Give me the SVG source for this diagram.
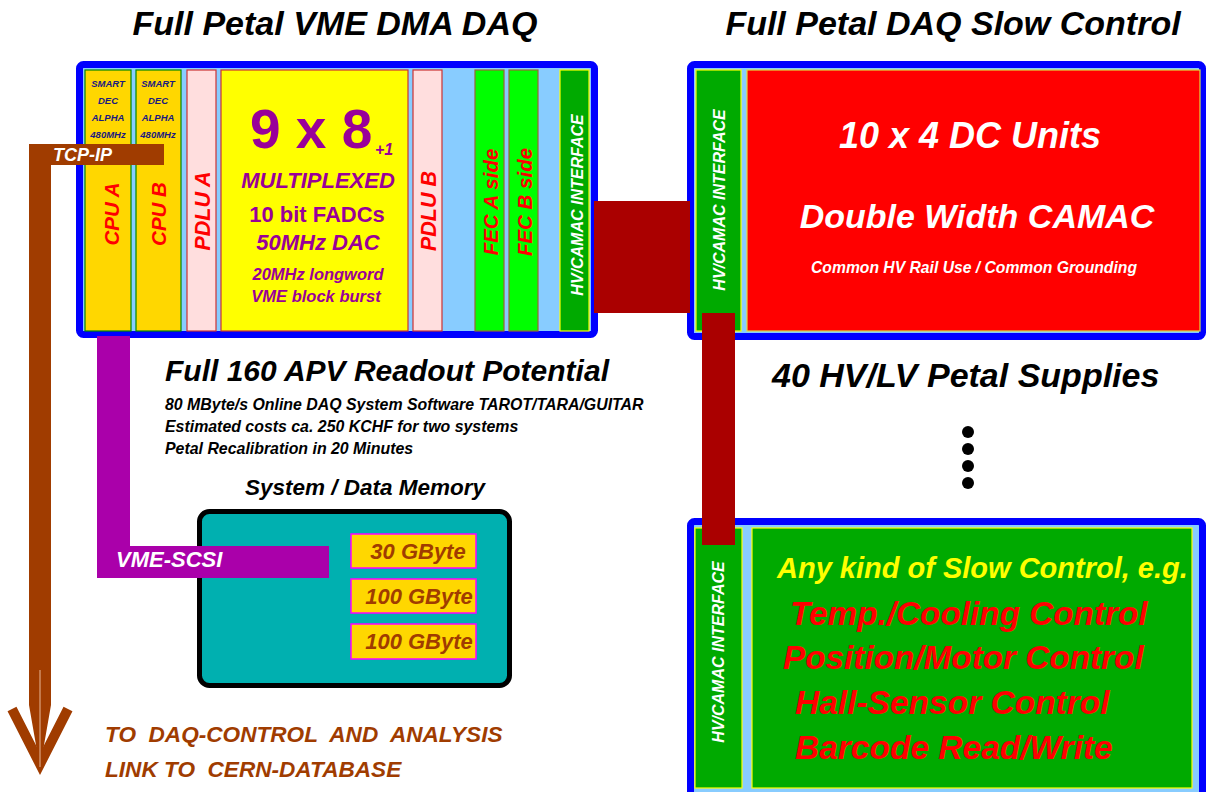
<svg xmlns="http://www.w3.org/2000/svg" width="1206" height="792" viewBox="0 0 1206 792">
<style>
text{font-family:"Liberation Sans",Arial,sans-serif;font-weight:bold;font-style:italic}
.up{font-style:normal}
.crate{fill:#88ccff;stroke:#0000ff;stroke-width:7}
.cpu{fill:#ffd700;stroke:#008800;stroke-width:1.2}
.pdlu{fill:#ffdede;stroke:#cc3333;stroke-width:1.2}
.fadc{fill:#ffff00;stroke:#cc3333;stroke-width:1.2}
.fec{fill:#00ff00;stroke:#996633;stroke-width:1.2}
.hv{fill:#00aa00;stroke:#ffff00;stroke-width:1.2}
.gb{fill:#ffd700;stroke:#ff00ff;stroke-width:1.5}
.small{fill:#1a1a80;font-size:9.5px;text-anchor:middle}
.red{fill:#ff0000}
.white{fill:#ffffff}
.purple{fill:#990099}
.brown{fill:#a03c00}
.link{fill:#aa0000}
</style>
<rect width="1206" height="792" fill="#ffffff"/>

<text x="335" y="35" font-size="34" text-anchor="middle" fill="#000">Full Petal VME DMA DAQ</text>
<text x="953" y="35" font-size="34" text-anchor="middle" fill="#000">Full Petal DAQ Slow Control</text>

<g id="vme-crate">
<rect class="crate" x="79.5" y="64.5" width="515" height="270" rx="4"/>
</g>
<g id="cpu-a">
<rect class="cpu" x="85" y="70" width="46" height="261"/>
<text class="small" x="108" y="87">SMART</text>
<text class="small" x="108" y="104">DEC</text>
<text class="small" x="108" y="121">ALPHA</text>
<text class="small" x="108" y="138">480MHz</text>
<text class="red" font-size="20.5" text-anchor="middle" transform="translate(118.5,214) rotate(-90)">CPU A</text>
</g>
<g id="cpu-b">
<rect class="cpu" x="136" y="70" width="45" height="261"/>
<text class="small" x="158" y="87">SMART</text>
<text class="small" x="158" y="104">DEC</text>
<text class="small" x="158" y="121">ALPHA</text>
<text class="small" x="158" y="138">480MHz</text>
<text class="red" font-size="20.5" text-anchor="middle" transform="translate(165.5,214) rotate(-90)">CPU B</text>
</g>
<g id="pdlu-a">
<rect class="pdlu" x="187" y="70" width="29" height="261"/>
<text class="red" font-size="21.5" text-anchor="middle" transform="translate(209.5,211) rotate(-90)">PDLU A</text>
</g>
<g id="fadc">
<rect class="fadc" x="221" y="70" width="187" height="261"/>
<text class="purple up" x="250" y="148" font-size="55">9 x 8</text>
<text class="purple" x="375" y="155" font-size="16">+1</text>
<text class="purple" x="318" y="188" font-size="22" text-anchor="middle">MULTIPLEXED</text>
<text class="purple up" x="317" y="222" font-size="22" text-anchor="middle">10 bit FADCs</text>
<text class="purple" x="318" y="250" font-size="22" text-anchor="middle">50MHz DAC</text>
<text class="purple" x="318" y="280" font-size="16.5" text-anchor="middle">20MHz longword</text>
<text class="purple" x="316" y="302" font-size="16.5" text-anchor="middle">VME block burst</text>
</g>
<g id="pdlu-b">
<rect class="pdlu" x="413" y="70" width="29" height="261"/>
<text class="red" font-size="21.5" text-anchor="middle" transform="translate(435.5,211) rotate(-90)">PDLU B</text>
</g>
<g id="fec-a">
<rect class="fec" x="475" y="70" width="29" height="261"/>
<text class="red" font-size="20.5" text-anchor="middle" transform="translate(497.5,202) rotate(-90)">FEC A side</text>
</g>
<g id="fec-b">
<rect class="fec" x="509" y="70" width="29" height="261"/>
<text class="red" font-size="20.5" text-anchor="middle" transform="translate(532,202) rotate(-90)">FEC B side</text>
</g>
<g id="hv-left">
<rect class="hv" x="560" y="70" width="29" height="261"/>
<text class="white" font-size="16" text-anchor="middle" transform="translate(583,205) rotate(-90)">HV/CAMAC INTERFACE</text>
</g>

<g id="camac-crate">
<rect class="crate" x="690.5" y="64.5" width="512" height="272" rx="4"/>
<rect class="hv" x="696" y="70" width="45" height="261"/>
<text class="white" font-size="16" text-anchor="middle" transform="translate(725,200) rotate(-90)">HV/CAMAC INTERFACE</text>
<rect x="747" y="70" width="453" height="261" fill="#ff0000" stroke="#dddd44" stroke-width="1.2"/>
<text class="white" x="970" y="148" font-size="36" text-anchor="middle">10 x 4 DC Units</text>
<text class="white" x="977" y="228" font-size="34" text-anchor="middle">Double Width CAMAC</text>
<text class="white" x="974" y="273" font-size="15.7" text-anchor="middle">Common HV Rail Use / Common Grounding</text>
</g>

<g id="slow-crate">
<rect class="crate" x="690.5" y="521.5" width="512" height="285" rx="4"/>
<rect class="hv" x="695" y="528" width="47" height="260"/>
<text class="white" font-size="16" text-anchor="middle" transform="translate(724,652) rotate(-90)">HV/CAMAC INTERFACE</text>
<rect x="752" y="528" width="440" height="260" fill="#00aa00" stroke="#ffff00" stroke-width="1.2"/>
<text x="777" y="578" font-size="29" fill="#ffff00">Any kind of Slow Control, e.g.</text>
<text class="red" x="790" y="625" font-size="33.3">Temp./Cooling Control</text>
<text class="red" x="783" y="669" font-size="33.3">Position/Motor Control</text>
<text class="red" x="795" y="714" font-size="33.5">Hall-Sensor Control</text>
<text class="red" x="795" y="759" font-size="33.5">Barcode Read/Write</text>
</g>

<g id="info">
<text x="165" y="381" font-size="30" fill="#000">Full 160 APV Readout Potential</text>
<text x="165" y="410" font-size="15.9" fill="#000">80 MByte/s Online DAQ System Software TAROT/TARA/GUITAR</text>
<text x="165" y="432" font-size="15.9" fill="#000">Estimated costs ca. 250 KCHF for two systems</text>
<text x="165" y="454" font-size="15.9" fill="#000">Petal Recalibration in 20 Minutes</text>
<text x="772" y="387" font-size="34" fill="#000">40 HV/LV Petal Supplies</text>
<circle cx="968" cy="432" r="6" fill="#000"/>
<circle cx="968" cy="449" r="6" fill="#000"/>
<circle cx="968" cy="466" r="6" fill="#000"/>
<circle cx="968" cy="483" r="6" fill="#000"/>
</g>

<g id="memory">
<text x="245" y="495" font-size="22.5" fill="#000">System / Data Memory</text>
<rect x="199.5" y="511.5" width="310" height="174" rx="10" fill="#00b0b0" stroke="#000" stroke-width="5"/>
<rect class="gb" x="351" y="534" width="125" height="34"/>
<text class="brown" x="418" y="559" font-size="22" text-anchor="middle">30 GByte</text>
<rect class="gb" x="351" y="579" width="125" height="34"/>
<text class="brown" x="419" y="604" font-size="22" text-anchor="middle">100 GByte</text>
<rect class="gb" x="351" y="624" width="125" height="35"/>
<text class="brown" x="419" y="649" font-size="22" text-anchor="middle">100 GByte</text>
</g>

<g id="connectors">
<rect class="link" x="594" y="201" width="96" height="112"/>
<rect class="link" x="702" y="313" width="33" height="232"/>
<path d="M97 336 H130 V546 H329 V578 H97 Z" fill="#aa00aa"/>
<text class="white" x="116" y="567" font-size="22">VME-SCSI</text>
<path d="M29 144 H164 V165 H51 V705 L40 768 L29 705 Z" fill="#a03c00"/>
<path d="M12 709 L40 764 L68 709" fill="none" stroke="#a03c00" stroke-width="10"/>
<line x1="40" y1="670" x2="40" y2="767" stroke="#e8b898" stroke-width="1"/>
<text class="white" x="53" y="161" font-size="18">TCP-IP</text>
</g>

<g id="footer">
<text class="brown" x="105" y="742" font-size="22.6" xml:space="preserve">TO  DAQ-CONTROL  AND  ANALYSIS</text>
<text class="brown" x="105" y="777" font-size="22.6" xml:space="preserve">LINK TO  CERN-DATABASE</text>
</g>
</svg>
